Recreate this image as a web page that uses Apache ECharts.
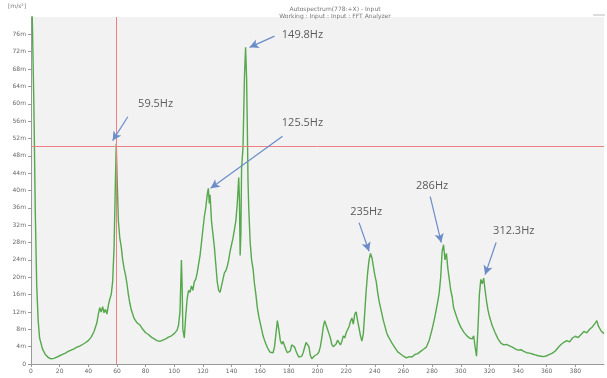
<!DOCTYPE html>
<html>
<head>
<meta charset="utf-8">
<script src="https://cdn.jsdelivr.net/npm/echarts@6/dist/echarts.min.js"></script>
<style>
html,body{margin:0;padding:0;background:#fff;}
#chart{width:607px;height:378px;}
</style>
</head>
<body>
<div id="chart"></div>
<script>
// Autospectrum of the input channel, frequency [Hz] vs acceleration [m/s²] (values in milli-units)
const freqHz = [0.5,1,2,3,4,5,6,8,10,12,14,16,18,20,22,24,26,28,30,32,34,36,38,40,42,44,46,47,48,49,50,51,52,53,54,55,56,57,58,58.8,59.5,60.2,61,62,63,64,65,66,67,68,69,70,72,74,76,78,80,82,84,86,88,90,92,94,96,98,100,102,103,104,105,105.5,106,107,108,109,110,111,112,113,114,115,116,117,118,119,120,121,122,123,123.8,124.5,125,126,127,128,129,130,131,132,133,134,135,136,137,138,139,140,141,142,143,144,145,145.5,146,146.5,147,148,149,149.8,150.5,151,151.5,152,153,154,155,156,157,158,159,160,161,162,163,164,165,166,167,168,169,170,171,172,173,174,175,176,177,178,179,180,181,182,183,184,185,186,187,188,189,190,191,192,193,194,195,196,197,198,199,200,201,202,203,204,205,206,207,208,209,210,211,212,213,214,215,216,217,218,219,220,221,222,223,224,225,226,227,228,229,230,231,232,233,234,235,236,237,238,239,240,241,242,243,244,245,246,247,248,249,250,252,254,256,258,260,262,264,266,268,270,272,274,276,278,280,282,284,285,286,287,288,289,290,291,292,293,294,295,296,298,300,302,304,306,308,309,310,311,312,313,314,315,316,317,318,319,320,322,324,326,328,330,332,334,336,338,340,342,344,346,348,350,352,354,356,358,360,362,364,366,368,370,372,374,376,378,380,382,384,386,388,390,392,394,395,396,398,400];
const amplitude = [85,78,60,35,18,10,6,3.5,2.2,1.5,1.2,1.3,1.6,1.9,2.2,2.5,2.9,3.2,3.5,3.9,4.1,4.5,4.9,5.4,6.2,7.5,9.5,11.5,13,12,13.2,11.8,12.6,11.5,13.5,15,16,19,27,40,50.8,42,33,29,27,24,22,20.5,18.5,16,14,12.5,10.5,9.5,9,8,7.2,6.8,6.2,5.8,5.4,5.2,5.5,5.8,6.2,6.5,7,7.8,9,12,24,18,8,6,11,15,17,16.5,18,17,19,19.5,21,23,25,28,31,34,36,39,40.5,37,39,33,30,27,23,19,17,16.5,18,19.5,21,21.5,22.5,24,26,27.5,29,31,33,37,43,38,25,30,45,50,66,73,66,55,42,36,28,24,22,18.5,16,13,11,9.5,8,6.5,5.5,4.6,3.8,3.2,2.7,2.3,2.6,4,7,10,8,5.5,4.6,5.2,4.2,3.3,2.6,2.3,3,4.4,4.8,3.9,3,2.2,1.6,1.4,1.8,2.6,3.8,5,5.4,4,2,1.2,1.4,1.9,2.2,2.3,2.8,4,6,8.5,10,9,8,7,6,4.5,4,3.7,4.6,5.5,5.2,4.4,5.2,6.5,6,7.2,7,8.6,9.8,10.6,9.2,11.5,12,10,8.3,6.5,5.3,7,12,17,21,24,25.5,24.5,22.5,20.5,19,16.5,14.5,13,11.5,10,8.8,7.5,6.6,6,4.8,3.8,2.8,2.3,1.8,1.4,1.7,1.6,2.2,2.4,2.9,3.4,3.9,5.5,8,11,14.5,16.5,20,26,27.5,24,25.5,22,19.5,17,15.5,13,12,10,8.5,7.4,6.6,6,5.8,6.5,4,1.8,8,16,19.5,18.5,19.8,17,14.5,12.5,11,8.8,7.2,5.8,4.8,4.4,4.5,4.2,3.9,3.5,3.2,3.3,2.9,2.6,2.5,2.3,2.1,1.9,1.8,1.7,1.9,2.2,2.5,3,3.8,4.5,5,5.4,5.1,6,6.4,6.1,6.8,7.5,7.2,8,8.6,9.5,10,8.8,7.6,7];

// Cursor position (crosshair)
const cursorHz = 59.5;
const cursorLevel = 50.2;

// Peak annotations: label text, label anchor, arrow tail and arrow head (data units)
const peakLabels = ['59.5Hz','149.8Hz','125.5Hz','235Hz','286Hz','312.3Hz'];
const labelHz    = [87, 189.5, 189.5, 234, 280, 337];
const labelLevel = [60, 75.8, 55.7, 35, 41, 30.7];
const tailHz     = [67.6, 170, 175.6, 229, 278.7, 324.7];
const tailLevel  = [57, 75.6, 52.5, 32.6, 38.6, 28];
const headHz     = [57, 152.6, 125.4, 236, 286.4, 317];
const headLevel  = [51.5, 73, 40.5, 26, 28, 20.6];

// Axis ticks
const xTickStep = 20;
const yTickStep = 4;

const chart = echarts.init(document.getElementById('chart'), null, {renderer: 'canvas'});

const spectrum = freqHz.map((f, i) => [f, amplitude[i]]);
const labelPoints = peakLabels.map((t, i) => [labelHz[i], labelLevel[i], t]);
const arrows = peakLabels.map((t, i) => [
  {coord: [tailHz[i], tailLevel[i]]},
  {coord: [headHz[i], headLevel[i]]}
]);

const tinyText = {fontFamily: 'DejaVu Sans', fontSize: 6, color: '#666'};

chart.setOption({
  animation: false,
  backgroundColor: '#ffffff',
  title: {
    text: 'Autospectrum(778:+X) - Input\nWorking : Input : Input : FFT Analyzer',
    left: 330,
    top: 1,
    textAlign: 'center',
    textStyle: {fontFamily: 'DejaVu Sans', fontSize: 6, lineHeight: 7, fontWeight: 'normal', color: '#777'}
  },
  graphic: [
    {type: 'text', left: 8, top: 3, style: {text: '[m/s²]', font: '6px DejaVu Sans', fill: '#777'}},
    {type: 'line', shape: {x1: 593, y1: 15, x2: 605, y2: 15}, style: {stroke: '#bbb', lineWidth: 1}}
  ],
  grid: {
    left: 31, right: 3, top: 17, bottom: 14,
    outerBoundsMode: 'none', containLabel: false,
    show: true, backgroundColor: '#f2f2f2', borderWidth: 0
  },
  xAxis: {
    type: 'value', min: 0, max: 400, interval: xTickStep,
    name: '[Hz]', nameLocation: 'middle', nameGap: 10,
    nameTextStyle: Object.assign({}, tinyText, {fontSize: 5}),
    axisLine: {show: true, lineStyle: {color: '#999', width: 1}},
    axisTick: {show: true, length: 3, lineStyle: {color: '#999'}},
    axisLabel: Object.assign({}, tinyText, {margin: 4, showMaxLabel: false}),
    splitLine: {show: false}
  },
  yAxis: {
    type: 'value', min: 0, max: 80, interval: yTickStep,
    axisLine: {show: true, lineStyle: {color: '#999', width: 1}},
    axisTick: {show: true, length: 3, lineStyle: {color: '#999'}},
    axisLabel: Object.assign({}, tinyText, {
      margin: 5, showMaxLabel: false,
      formatter: v => v === 0 ? '0' : v + 'm'
    }),
    splitLine: {show: false}
  },
  series: [
    {
      type: 'line', name: 'Autospectrum', data: spectrum,
      showSymbol: false, clip: true,
      lineStyle: {color: '#55a84c', width: 1.4},
      markLine: {
        silent: true, symbol: 'none', animation: false,
        label: {show: false},
        lineStyle: {color: '#ef8080', width: 1, type: 'solid'},
        data: [{xAxis: cursorHz}, {yAxis: cursorLevel}]
      }
    },
    {
      type: 'scatter', name: 'peaks', data: labelPoints,
      symbolSize: 0, silent: true,
      label: {
        show: true, position: 'inside',
        formatter: p => p.data[2],
        fontFamily: 'Open Sans', fontSize: 11, color: '#333'
      },
      markLine: {
        silent: true, animation: false,
        symbol: ['none', 'arrow'], symbolSize: [7, 9],
        label: {show: false},
        lineStyle: {color: '#6b8cc9', width: 1.2, type: 'solid'},
        data: arrows
      }
    }
  ]
});
</script>
</body>
</html>
